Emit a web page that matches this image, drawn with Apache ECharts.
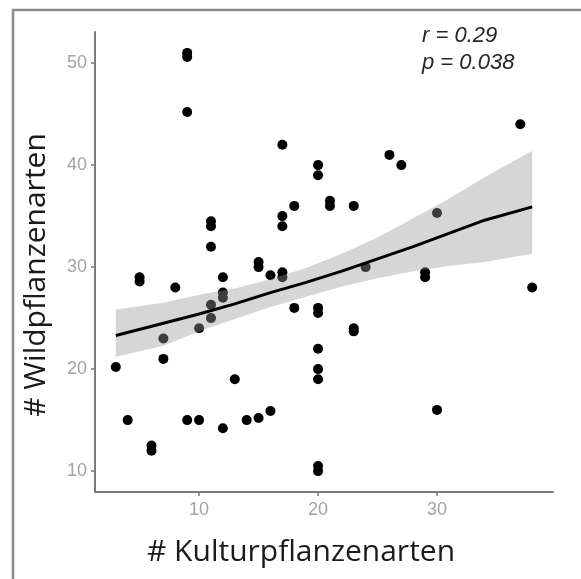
<!DOCTYPE html>
<html>
<head>
<meta charset="utf-8">
<script src="https://cdn.jsdelivr.net/npm/echarts@6/dist/echarts.min.js"></script>
<style>
  html, body { margin: 0; padding: 0; background: #fff; }
  #chart { width: 581px; height: 579px; }
</style>
</head>
<body>
<div id="chart"></div>
<script>
// Kulturpflanzen (x) vs. Wildpflanzen (y), one value per plot
const kultur = [3, 4, 5, 5, 6, 6, 7, 7, 8, 9, 9, 9, 9, 10, 10, 11, 11, 11, 11, 11,
  12, 12, 12, 12, 13, 14, 15, 15, 15, 16, 16, 17, 17, 17, 17, 17, 18, 18,
  20, 20, 20, 20, 20, 20, 20, 20, 20, 21, 21, 23, 23, 23, 24, 26, 27, 29, 29,
  30, 30, 37, 38];
const wild = [20.2, 15, 29, 28.6, 12.5, 12, 23, 21, 28, 51, 50.6, 45.2, 15, 24, 15, 34.5, 34, 32, 26.3, 25,
  29, 27.5, 27, 14.2, 19, 15, 30.5, 30, 15.2, 29.2, 15.9, 42, 35, 34, 29.5, 29, 36, 26,
  40, 39, 26, 25.5, 22, 20, 19, 10.5, 10, 36.5, 36, 36, 24, 23.7, 30, 41, 40, 29.5, 29,
  35.3, 16, 44, 28];

// fitted curve and its confidence band
const fitX = [3, 7, 10, 13, 16, 19, 22, 25, 28, 31, 34, 38];
const fitLine = [23.3, 24.5, 25.4, 26.4, 27.5, 28.5, 29.6, 30.8, 32.0, 33.3, 34.6, 35.9];
const fitLow = [21.2, 22.3, 23.7, 24.9, 26.1, 27.1, 28.1, 28.9, 29.6, 30.1, 30.5, 31.3];
const fitHigh = [25.85, 26.5, 27.3, 27.9, 28.8, 29.9, 31.3, 32.9, 34.8, 36.7, 38.8, 41.4];

const xTicks = [10, 20, 30];
const yTicks = [10, 20, 30, 40, 50];

const axisGrey = '#7a7a7a';
const labelGrey = '#a3a3a3';
const titleFont = '30px "Open Sans"';

let myChart = echarts.init(document.getElementById('chart'));
myChart.setOption({
  animation: false,
  backgroundColor: '#fff',
  grid: {
    left: 95,
    right: 28,
    top: 32,
    bottom: 87
  },
  xAxis: {
    type: 'value',
    min: 1.25,
    max: 39.75,
    splitLine: { show: false },
    axisLine: { show: true, onZero: false, lineStyle: { color: axisGrey, width: 2 } },
    axisTick: { show: true, length: 4, customValues: xTicks, lineStyle: { color: axisGrey, width: 1.5 } },
    axisLabel: {
      customValues: xTicks,
      margin: 9,
      fontFamily: 'Liberation Sans',
      fontSize: 18,
      color: labelGrey
    }
  },
  yAxis: {
    type: 'value',
    min: 7.95,
    max: 53.05,
    splitLine: { show: false },
    axisLine: { show: true, onZero: false, lineStyle: { color: axisGrey, width: 2 } },
    axisTick: { show: true, length: 4, customValues: yTicks, lineStyle: { color: axisGrey, width: 1.5 } },
    axisLabel: {
      customValues: yTicks,
      margin: 8,
      fontFamily: 'Liberation Sans',
      fontSize: 18,
      color: labelGrey
    }
  },
  graphic: [
    {
      type: 'polyline',
      shape: { points: [[13, 579], [13, 10], [581, 10]] },
      style: { stroke: '#8a8a8a', lineWidth: 2.5, fill: null },
      z: 10
    },
    {
      type: 'text',
      x: 301,
      y: 552,
      style: {
        text: '# Kulturpflanzenarten',
        font: titleFont,
        fill: '#1a1a1a',
        align: 'center',
        verticalAlign: 'middle'
      }
    },
    {
      type: 'text',
      x: 36,
      y: 275,
      rotation: Math.PI / 2,
      style: {
        text: '# Wildpflanzenarten',
        font: titleFont,
        fill: '#1a1a1a',
        align: 'center',
        verticalAlign: 'middle'
      }
    },
    {
      type: 'text',
      left: 422,
      top: 22,
      style: {
        text: 'r = 0.29\np = 0.038',
        font: 'italic 22px "Liberation Sans"',
        fill: '#262626',
        lineHeight: 27
      }
    }
  ],
  series: [
    {
      type: 'scatter',
      symbol: 'circle',
      symbolSize: 10,
      itemStyle: { color: '#000', opacity: 1 },
      data: kultur.map((k, i) => [k, wild[i]]),
      z: 2
    },
    {
      // band drawn on top of the points, as in the picture
      type: 'custom',
      renderItem: function(params, api) {
        let upper = fitX.map((x, i) => api.coord([x, fitHigh[i]]));
        let lower = fitX.map((x, i) => api.coord([x, fitLow[i]])).reverse();
        return {
          type: 'polygon',
          shape: { points: upper.concat(lower), smooth: 0 },
          style: { fill: 'rgba(153,153,153,0.4)' }
        };
      },
      data: [[fitX[0], fitLine[0]]],
      z: 3
    },
    {
      type: 'line',
      symbol: 'none',
      smooth: false,
      lineStyle: { color: '#000', width: 3 },
      data: fitX.map((x, i) => [x, fitLine[i]]),
      z: 4
    }
  ]
});
</script>
</body>
</html>
